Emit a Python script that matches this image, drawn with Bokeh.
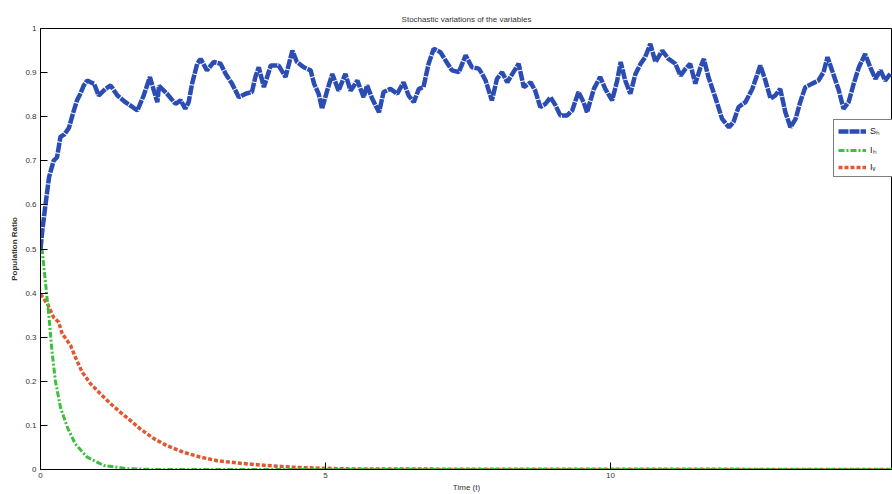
from bokeh.plotting import figure
from bokeh.models import FixedTicker, Legend, LegendItem
from bokeh.embed import file_html
from bokeh.resources import INLINE

# ---- data ----
t_sh = [0.00, 0.03, 0.09, 0.15, 0.23, 0.29, 0.35, 0.42, 0.50, 0.56, 0.64, 0.70, 0.76, 0.82, 0.88,
        0.94, 1.02, 1.14, 1.23, 1.35, 1.49, 1.58, 1.70, 1.81, 1.92, 1.99, 2.05, 2.08, 2.22, 2.37,
        2.46, 2.54, 2.60, 2.66, 2.75, 2.81, 2.92, 3.04, 3.16, 3.25, 3.36, 3.48, 3.60, 3.71, 3.77,
        3.83, 3.92, 4.04, 4.18, 4.30, 4.42, 4.50, 4.62, 4.74, 4.80, 4.88, 4.94, 5.03, 5.12, 5.23,
        5.35, 5.44, 5.56, 5.67, 5.73, 5.82, 5.94, 6.02, 6.14, 6.26, 6.37, 6.46, 6.55, 6.64, 6.72,
        6.81, 6.90, 7.02, 7.11, 7.22, 7.34, 7.46, 7.57, 7.69, 7.75, 7.81, 7.92, 8.01, 8.10, 8.19,
        8.28, 8.39, 8.48, 8.60, 8.68, 8.77, 8.86, 8.95, 9.04, 9.12, 9.24, 9.33, 9.44, 9.53, 9.59,
        9.71, 9.82, 9.91, 10.03, 10.12, 10.18, 10.26, 10.35, 10.44, 10.53, 10.61, 10.70, 10.79,
        10.91, 11.02, 11.14, 11.23, 11.32, 11.40, 11.49, 11.58, 11.64, 11.72, 11.84, 11.96, 12.08,
        12.16, 12.25, 12.37, 12.49, 12.57, 12.63, 12.72, 12.81, 12.89, 12.98, 13.07, 13.16, 13.25,
        13.33, 13.42, 13.54, 13.65, 13.74, 13.81, 13.89, 14.01, 14.09, 14.18, 14.27, 14.36, 14.47,
        14.56, 14.65, 14.74, 14.82, 14.91]
s_h = [0.500, 0.540, 0.603, 0.663, 0.700, 0.708, 0.754, 0.760, 0.775, 0.803, 0.837, 0.852, 0.871, 0.882, 0.878,
       0.875, 0.848, 0.863, 0.871, 0.848, 0.833, 0.825, 0.814, 0.848, 0.890, 0.859, 0.833, 0.870, 0.852, 0.829,
       0.837, 0.818, 0.833, 0.875, 0.920, 0.931, 0.905, 0.924, 0.920, 0.897, 0.875, 0.844, 0.852, 0.856, 0.890,
       0.912, 0.867, 0.916, 0.916, 0.890, 0.950, 0.924, 0.912, 0.905, 0.875, 0.852, 0.818, 0.859, 0.897, 0.859,
       0.897, 0.859, 0.882, 0.844, 0.871, 0.841, 0.810, 0.856, 0.863, 0.852, 0.878, 0.848, 0.833, 0.863, 0.867,
       0.920, 0.954, 0.946, 0.927, 0.905, 0.901, 0.939, 0.912, 0.909, 0.897, 0.882, 0.837, 0.886, 0.901, 0.878,
       0.897, 0.920, 0.867, 0.878, 0.859, 0.822, 0.829, 0.844, 0.825, 0.803, 0.803, 0.814, 0.856, 0.833, 0.810,
       0.863, 0.890, 0.863, 0.837, 0.882, 0.924, 0.882, 0.852, 0.897, 0.920, 0.935, 0.965, 0.924,
       0.950, 0.931, 0.920, 0.893, 0.909, 0.920, 0.875, 0.912, 0.931, 0.890, 0.844, 0.795, 0.776,
       0.788, 0.822, 0.833, 0.863, 0.893, 0.916, 0.882, 0.841, 0.848, 0.863, 0.810, 0.776, 0.795,
       0.833, 0.867, 0.875, 0.882, 0.901, 0.935, 0.905, 0.859, 0.818, 0.833, 0.875, 0.912, 0.942,
       0.912, 0.886, 0.905, 0.882, 0.897]

t_ih = [0.00, 0.03, 0.09, 0.15, 0.20, 0.26, 0.35, 0.47, 0.61, 0.82, 1.11, 1.52, 2.00, 15.0]
i_h = [0.500, 0.497, 0.421, 0.345, 0.270, 0.202, 0.141, 0.096, 0.058, 0.028, 0.009, 0.002, 0.0, 0.0]

t_iv = [0.00, 0.12, 0.23, 0.32, 0.38, 0.53, 0.61, 0.73, 0.88, 1.05, 1.23, 1.40, 1.58, 1.75, 1.99,
        2.22, 2.51, 2.81, 3.10, 3.51, 3.98, 4.44, 4.91, 5.50, 15.0]
i_v = [0.398, 0.376, 0.345, 0.334, 0.308, 0.281, 0.255, 0.221, 0.194, 0.172, 0.149, 0.130, 0.111, 0.092, 0.070,
       0.054, 0.039, 0.028, 0.020, 0.014, 0.009, 0.005, 0.003, 0.001, 0.0]

y_ticks = [0, 0.1, 0.2, 0.3, 0.4, 0.5, 0.6, 0.7, 0.8, 0.9, 1]
x_ticks = [0, 5, 10, 15]

FONT = "Liberation Sans"
TXT = "#333333"

p = figure(width=892, height=494, x_range=(0, 14.95), y_range=(0, 1),
           output_backend="svg", toolbar_location=None,
           min_border_left=40, min_border_right=0, min_border_top=28, min_border_bottom=25,
           title="Stochastic variations of the variables")
p.title.text_font = FONT
p.title.text_font_size = "8px"
p.title.text_font_style = "normal"
p.title.text_color = TXT
p.title.align = "center"
p.title.standoff = 10

p.xgrid.visible = False
p.ygrid.visible = False
p.outline_line_color = "black"
p.outline_line_width = 1
p.background_fill_color = "white"
p.border_fill_color = "white"

for ax, ticks in ((p.xaxis[0], x_ticks), (p.yaxis[0], y_ticks)):
    ax.ticker = FixedTicker(ticks=ticks)
    ax.major_tick_in = 7
    ax.major_tick_out = 0
    ax.minor_tick_line_color = None
    ax.axis_line_color = "black"
    ax.major_tick_line_color = "black"
    ax.major_label_text_font = FONT
    ax.major_label_text_color = TXT
    ax.major_label_text_font_size = "8px"
    ax.major_label_standoff = 4
    ax.axis_label_text_font = FONT
    ax.axis_label_text_font_size = "8px"
    ax.axis_label_text_color = TXT
    ax.axis_label_standoff = 3

p.xaxis[0].major_label_standoff = 3
p.xaxis[0].axis_label_standoff = 2
p.yaxis[0].major_label_overrides = {0: "0", 1: "1"}
p.xaxis[0].axis_label = "Time (t)"
p.yaxis[0].axis_label = "Population Ratio"
p.xaxis[0].axis_label_text_font_style = "normal"
p.yaxis[0].axis_label_text_font_style = "bold"

r_iv = p.line(t_iv, i_v, line_color="#E2572F", line_width=3.5, line_dash="4 2")
r_ih = p.line(t_ih, i_h, line_color="#3EBE3E", line_width=3, line_dash="6 2 2 2")
r_sh = p.line(t_sh, s_h, line_color="#2B4DB3", line_width=4.5, line_dash="10 1")

legend = Legend(items=[LegendItem(label="Sₕ", renderers=[r_sh]),
                       LegendItem(label="Iₕ", renderers=[r_ih]),
                       LegendItem(label="Iᵥ", renderers=[r_iv])],
                location=(793, 292))
legend.label_text_font = FONT
legend.label_text_font_size = "9px"
legend.label_text_color = "#222222"
legend.glyph_width = 28
legend.glyph_height = 10
legend.label_standoff = 4
legend.spacing = 6
legend.padding = 4
legend.margin = 0
legend.border_line_color = "black"
legend.border_line_width = 1.5
legend.background_fill_color = "white"
legend.background_fill_alpha = 1
p.add_layout(legend, "center")

open("out.html", "w").write(file_html(p, INLINE))
